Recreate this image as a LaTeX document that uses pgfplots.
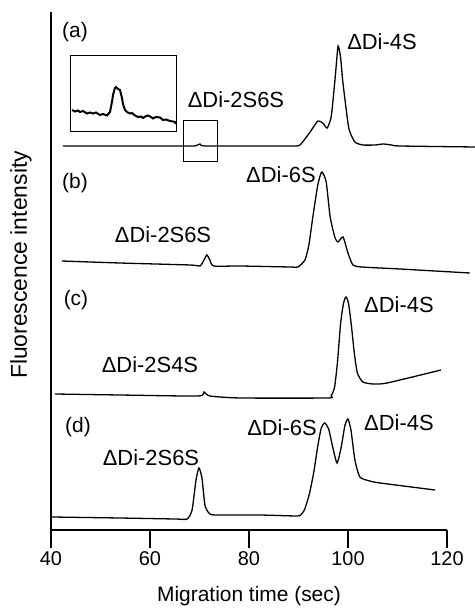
\documentclass[border=0pt]{standalone}
\usepackage{fontspec}
\setmainfont{Liberation Sans}
\usepackage{pgfplots}
\pgfplotsset{compat=1.18}

\newcommand{\lab}{\fontsize{22}{22}\selectfont}
\newcommand{\pan}{\fontsize{21}{21}\selectfont}
\pgfplotsset{trace/.style={black, line width=1.3bp, no marks, smooth, tension=0.35}}

\begin{document}
\begin{tikzpicture}
\begin{axis}[
    scale only axis,
    width=396bp, height=518bp,
    xmin=40, xmax=120, ymin=79, ymax=597,
    axis x line=bottom, axis y line=left,
    axis line style={-, line width=1.2bp},
    xtick={40,60,80,100,120}, ytick=\empty,
    tick align=outside,
    major tick length=18bp,
    tick style={line width=1.2bp, black},
    ticklabel style={font=\fontsize{20}{20}\selectfont},
    /pgf/number format/assume math mode=true,
    clip=false,
]
% (a)
\addplot[trace] coordinates {(42.4,463)(53.9,463)(66.9,463)(69.1,463)(70.1,465)(71.1,463)(82.2,463)(89.3,463)(90.3,464)(91.3,470)(92.5,478)(93.9,488)(94.9,486)(95.8,481)(96.6,492)(97.2,520)(97.6,542)(98.0,563)(98.5,552)(98.9,530)(99.4,509)(100.2,480)(101.4,467)(103.0,464)(105.5,464)(107.1,465)(108.8,464)(110.5,463)(125.7,462)};
% inset trace
\addplot[black, line width=2bp, no marks] coordinates {(44.24,499)(44.85,497.5)(45.45,498.5)(45.86,497)(46.46,498)(47.27,495.5)(47.88,496.5)(48.48,495.5)(49.09,496.5)(49.90,494)(50.51,495)(51.31,493.5)(51.92,497)(52.32,507)(52.53,514)(52.93,521)(53.13,522)(53.54,520)(53.94,519)(54.34,511)(54.55,505)(54.95,499)(55.35,497)(55.96,495.5)(56.36,496)(56.97,493.5)(57.58,492)(58.18,492.5)(58.59,491)(59.19,493)(59.60,493.5)(60.20,492)(60.61,490.5)(61.21,492)(62.02,491.5)(62.63,489)(63.23,489.5)(64.04,488)(64.65,487.5)(65.05,487)(65.25,485)};
% (b)
\addplot[trace] coordinates {(42.2,348)(53.9,346)(68.1,344)(70.1,343)(70.9,349)(71.5,354)(72.1,349)(72.9,343)(78.2,343)(88.3,342)(89.9,342)(91.3,349)(92.1,364)(92.9,392)(93.9,424)(94.7,437)(95.6,427)(96.4,392)(97.4,371)(98.0,367)(99.0,372)(100.0,356)(101.0,344)(102.8,342)(110.5,340)(124.6,336)};
% (c)
\addplot[trace] coordinates {(40.8,215)(53.9,214)(69.7,213)(70.9,217)(72.1,213)(78.2,211)(95.8,211)(96.6,213)(97.3,222)(97.9,248)(98.5,285)(99.1,306)(99.6,312)(100.1,306)(100.7,283)(101.3,255)(101.9,236)(103.0,227)(105.1,225)(107.9,226)(118.8,239)};
% (d)
\addplot[trace] coordinates {(40.2,92)(53.9,91)(65.1,90)(67.5,90)(68.5,99)(69.3,129)(69.9,141)(70.5,131)(71.1,104)(71.9,96)(73.1,94)(82.2,94)(89.5,93)(90.4,94)(91.2,99)(92.2,115)(93.1,137)(93.9,163)(94.6,181)(95.3,186)(96.1,180)(97.0,160)(97.8,146)(98.6,161)(99.4,184)(100.0,190)(100.6,179)(101.4,149)(102.4,132)(104.4,128)(106.5,126)(117.6,119)};

\draw[line width=1bp] (axis cs:44.04,553) rectangle (axis cs:65.45,477);
\draw[line width=1bp] (axis cs:66.87,488) rectangle (axis cs:73.74,447);

\node[font=\pan] at (axis cs:44.85,577) {(a)};
\node[font=\pan] at (axis cs:44.85,426) {(b)};
\node[font=\pan] at (axis cs:45.05,309) {(c)};
\node[font=\pan] at (axis cs:45.45,182) {(d)};

\node[font=\lab] at (axis cs:77.37,509) {ΔDi-2S6S};
\node[font=\lab] at (axis cs:106.87,567) {ΔDi-4S};
\node[font=\lab] at (axis cs:86.46,434) {ΔDi-6S};
\node[font=\lab] at (axis cs:62.63,374) {ΔDi-2S6S};
\node[font=\lab] at (axis cs:110.30,304) {ΔDi-4S};
\node[font=\lab] at (axis cs:60.0,244) {ΔDi-2S4S};
\node[font=\lab] at (axis cs:60.2,151) {ΔDi-2S6S};
\node[font=\lab] at (axis cs:86.67,181) {ΔDi-6S};
\node[font=\lab] at (axis cs:110.30,186) {ΔDi-4S};

\node[font=\fontsize{23}{23}\selectfont, rotate=90] at (axis cs:33.94,344) {Fluorescence intensity};
\node[font=\fontsize{21}{21}\selectfont] at (axis cs:80,13) {Migration time (sec)};

\coordinate (bl) at (axis cs:29.70,0);
\coordinate (tr) at (axis cs:125.66,609);
\end{axis}
\pgfresetboundingbox
\path (bl) rectangle (tr);
\end{tikzpicture}
\end{document}
